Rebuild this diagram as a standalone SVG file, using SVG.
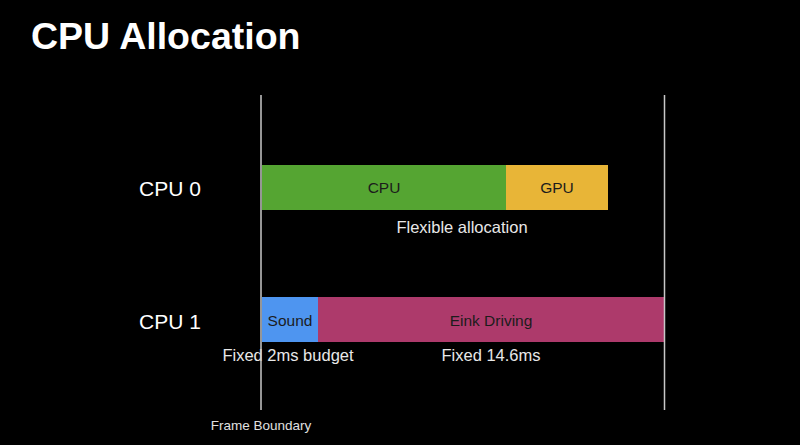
<svg xmlns="http://www.w3.org/2000/svg" width="800" height="445" viewBox="0 0 800 445">
<style>
text{font-family:"Liberation Sans",Arial,sans-serif}
.w{fill:#ffffff}
.row{font-size:21px}
.lbl{font-size:15.5px;fill:#1c1c1c;text-anchor:middle}
.note{font-size:16.5px;fill:#e8e8e8;text-anchor:middle}
.bnd{stroke:#c8c8c8;stroke-width:1.5}
</style>
<rect width="800" height="445" fill="#000"/>
<text x="31" y="49" class="w" font-size="37.5" font-weight="bold">CPU Allocation</text>
<g id="row-labels">
<text x="139" y="196" class="w row">CPU 0</text>
<text x="139" y="329" class="w row">CPU 1</text>
</g>
<g id="cpu0-cpu">
<rect x="262" y="165" width="244" height="45" fill="#55a532"/>
<text x="384" y="193" class="lbl">CPU</text>
</g>
<g id="cpu0-gpu">
<rect x="506" y="165" width="102" height="45" fill="#e8b537"/>
<text x="557" y="193" class="lbl">GPU</text>
</g>
<g id="cpu1-sound">
<rect x="262" y="297" width="56" height="45" fill="#4e95f0"/>
<text x="290" y="326" class="lbl">Sound</text>
</g>
<g id="cpu1-eink">
<rect x="318" y="297" width="346" height="45" fill="#ad3a6b"/>
<text x="491" y="326" class="lbl">Eink Driving</text>
</g>
<g id="notes">
<text x="462" y="233" class="note">Flexible allocation</text>
<text x="288" y="361" class="note">Fixed 2ms budget</text>
<text x="491" y="361" class="note">Fixed 14.6ms</text>
<text x="261" y="430" font-size="13.5" fill="#e0e0e0" text-anchor="middle">Frame Boundary</text>
</g>
<g id="connectors">
<line x1="261" y1="95" x2="261" y2="410" class="bnd"/>
<line x1="664.5" y1="95" x2="664.5" y2="410" class="bnd"/>
</g>
</svg>
